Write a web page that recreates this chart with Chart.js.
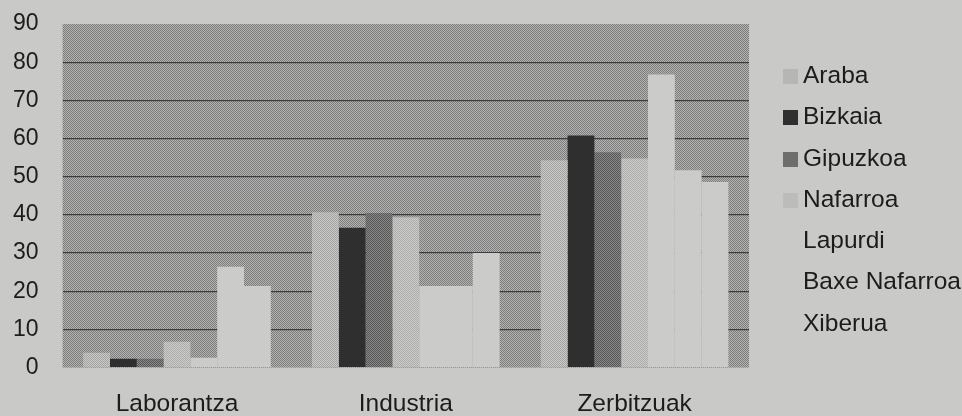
<!DOCTYPE html>
<html lang="eu">
  <head>
    <meta charset="UTF-8" />
    <title>Sektoreak</title>
    <script src="https://cdn.jsdelivr.net/npm/chart.js"></script>
    <style>
      body {
        margin: 0;
        background: #c9c9c7;
        font-family: "Liberation Sans", Arial, sans-serif;
      }
      #wrap {
        position: relative;
        width: 962px;
        height: 416px;
      }
      #legend {
        position: absolute;
        left: 783px;
        top: 54px;
        margin: 0;
        padding: 0;
        list-style: none;
        font-size: 24.5px;
        color: #1c1c1c;
      }
      #legend li {
        height: 41.3px;
        line-height: 41.3px;
        white-space: nowrap;
      }
      #legend span {
        display: inline-block;
        width: 15px;
        height: 15px;
        margin-right: 5px;
        vertical-align: -1px;
      }
    </style>
  </head>
  <body>
    <div id="wrap">
      <canvas id="sectorChart"></canvas>
      <ul id="legend"></ul>
    </div>

    <script>
      // data
      const sectors = ["Laborantza", "Industria", "Zerbitzuak"];
      const regions = ["Araba", "Bizkaia", "Gipuzkoa", "Nafarroa", "Lapurdi", "Baxe Nafarroa", "Xiberua"];
      const araba = [3.9, 40.7, 54.3];
      const bizkaia = [2.3, 36.6, 60.8];
      const gipuzkoa = [2.3, 40.5, 56.4];
      const nafarroa = [6.8, 39.4, 54.8];
      const lapurdi = [2.6, 21.4, 76.8];
      const baxeNafarroa = [26.4, 21.4, 51.7];
      const xiberua = [21.4, 30.0, 48.6];
      const yTicks = [0, 10, 20, 30, 40, 50, 60, 70, 80, 90];

      const seriesValues = [araba, bizkaia, gipuzkoa, nafarroa, lapurdi, baxeNafarroa, xiberua];

      // small halftone-like fills
      function dots(a, b) {
        const c = document.createElement("canvas");
        c.width = 2;
        c.height = 2;
        const g = c.getContext("2d");
        g.fillStyle = a;
        g.fillRect(0, 0, 2, 2);
        g.fillStyle = b;
        g.fillRect(0, 0, 1, 1);
        g.fillRect(1, 1, 1, 1);
        return g.createPattern(c, "repeat");
      }

      const fills = [
        dots("#c9c9c7", "#a4a4a2"), // Araba
        "#2f2f2f", // Bizkaia
        dots("#8a8a8a", "#555555"), // Gipuzkoa
        dots("#cbcbc9", "#adadab"), // Nafarroa
        "#cbcbc9",
        "#cbcbc9",
        "#cbcbc9",
      ];
      const swatches = ["#b6b6b4", "#2f2f2f", "#6e6e6e", "#bcbcba", "#c9c9c7", "#c9c9c7", "#c9c9c7"];

      const plotFill = dots("#b4b4b2", "#7c7c7c");

      // gray plot area behind the bars
      const plotBackground = {
        id: "plotBackground",
        beforeDraw(chart) {
          const { ctx, chartArea } = chart;
          ctx.save();
          ctx.fillStyle = plotFill;
          ctx.fillRect(chartArea.left, chartArea.top, chartArea.right - chartArea.left, chartArea.bottom - chartArea.top);
          ctx.restore();
        },
      };

      const chart = new Chart(document.getElementById("sectorChart"), {
        type: "bar",
        data: {
          labels: sectors,
          datasets: regions.map((name, i) => ({
            label: name,
            data: seriesValues[i],
            backgroundColor: fills[i],
            borderWidth: 0,
            barPercentage: 1,
            categoryPercentage: 0.82,
          })),
        },
        options: {
          responsive: true,
          maintainAspectRatio: false,
          animation: false,
          layout: {
            padding: { left: -11, right: 213, top: 24, bottom: -25 },
          },
          plugins: {
            legend: { display: false },
            tooltip: { enabled: false },
          },
          scales: {
            x: {
              grid: { display: false, drawTicks: false },
              border: { display: false },
              ticks: {
                padding: 22,
                color: "#1c1c1c",
                font: { family: "'Liberation Sans', Arial, sans-serif", size: 24.5 },
              },
            },
            y: {
              min: 0,
              max: 90,
              afterBuildTicks: (axis) => {
                axis.ticks = yTicks.map((v) => ({ value: v }));
              },
              // tick padding would otherwise also push the plot top down
              afterFit: (axis) => {
                axis.paddingTop = 0;
              },
              grid: {
                drawTicks: false,
                lineWidth: 1.3,
                color: (c) => (c.tick && (c.tick.value === 0 || c.tick.value === 90) ? "rgba(0,0,0,0)" : "#3c3c3c"),
              },
              border: { display: false },
              ticks: {
                padding: 24,
                color: "#1c1c1c",
                font: { family: "'Liberation Sans', Arial, sans-serif", size: 23 },
              },
            },
          },
        },
        plugins: [plotBackground],
      });

      // legend as a plain list beside the chart
      const legendEl = document.getElementById("legend");
      chart.data.datasets.forEach((ds, i) => {
        const li = document.createElement("li");
        li.innerHTML = `<span style="background:${swatches[i]}"></span>${ds.label}`;
        legendEl.appendChild(li);
      });
    </script>
  </body>
</html>
